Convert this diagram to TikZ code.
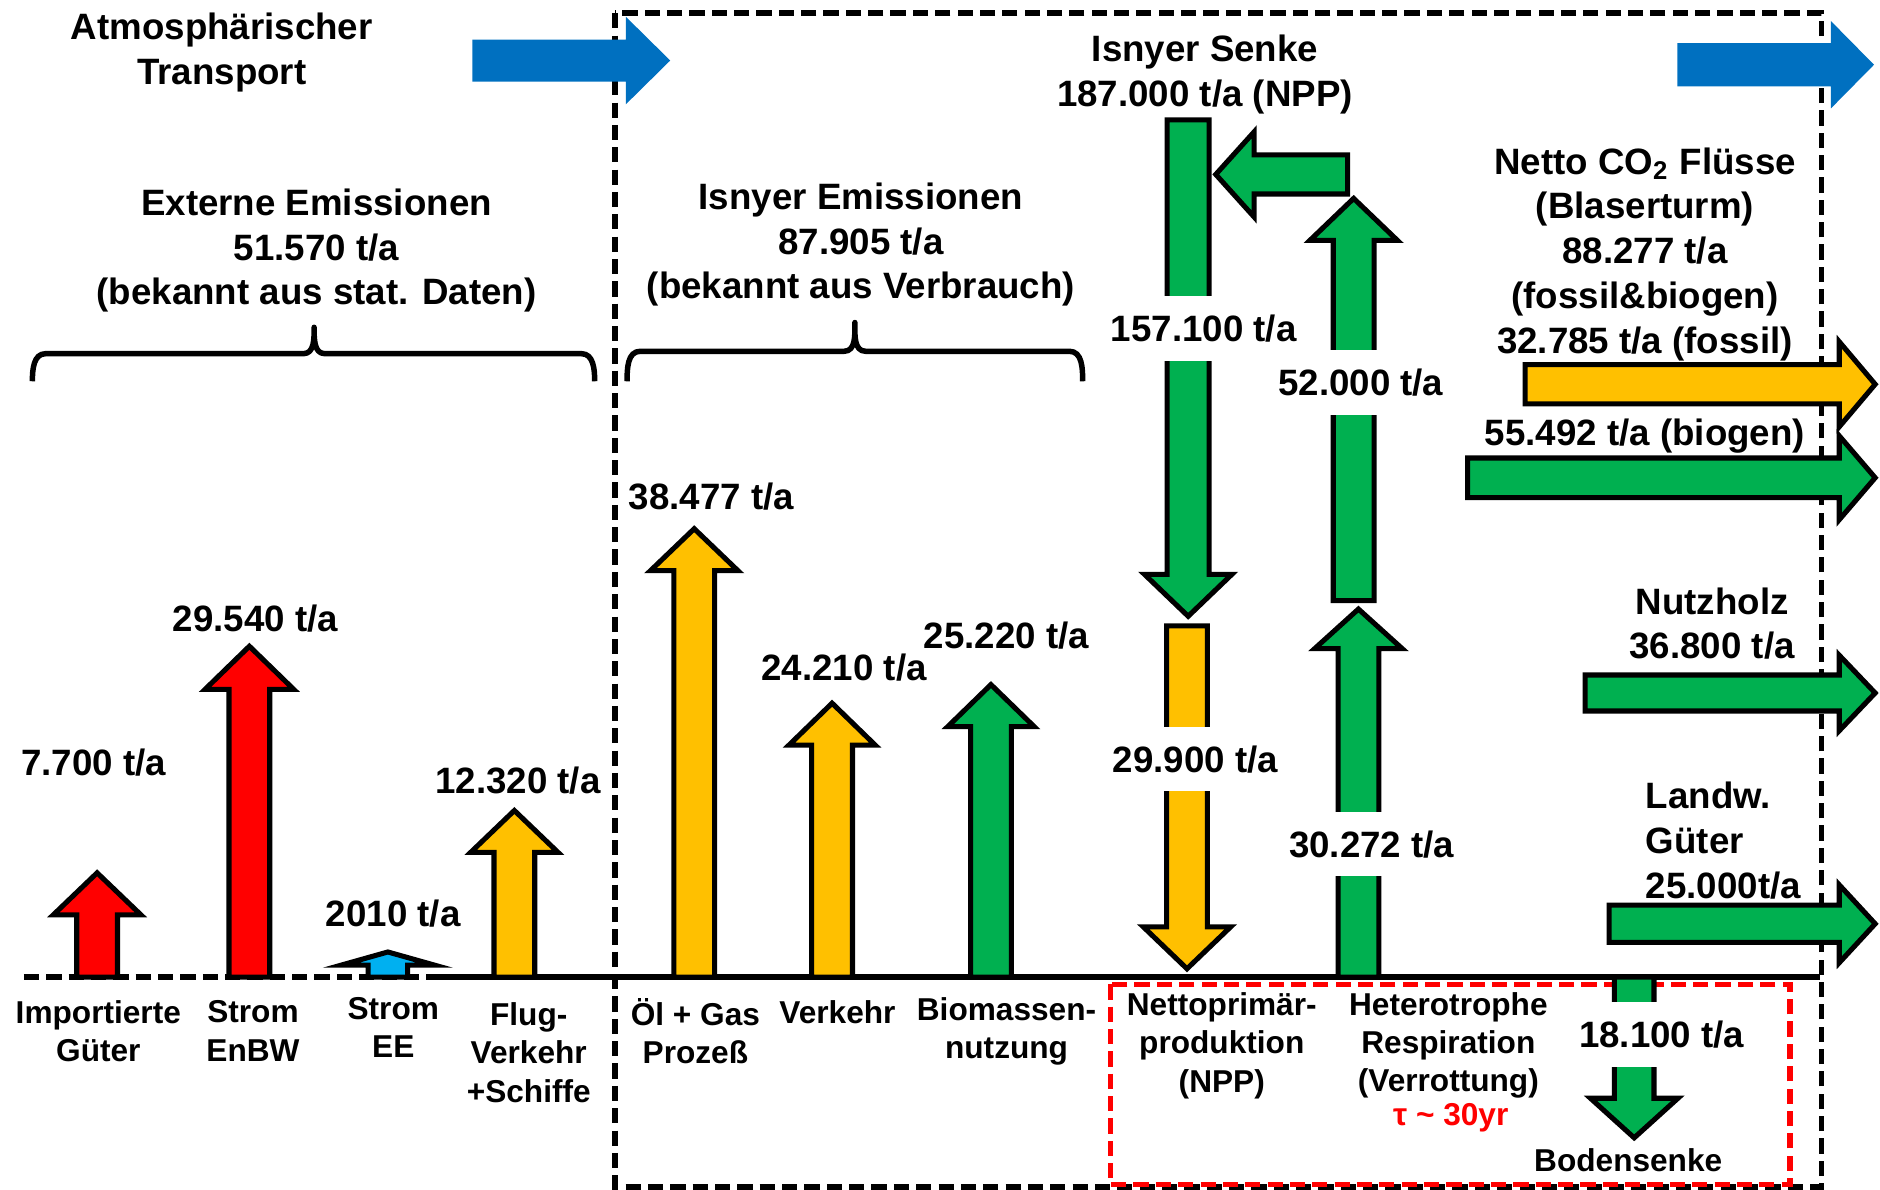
\documentclass[tikz,border=0pt]{standalone}
\usepackage{fontspec}
\setmainfont{Liberation Sans}
\usepackage{tikz}
\usetikzlibrary{positioning}

\definecolor{emred}{HTML}{FF0000}
\definecolor{fossil}{HTML}{FFC000}
\definecolor{bio}{HTML}{00B050}
\definecolor{atmo}{HTML}{0070C0}
\definecolor{eeblue}{HTML}{00B0F0}

% block arrow: options, tail, direction, length, head length, shaft half width, head half width
\newcommand{\flowarrow}[7]{%
  \draw[flow, #1, shift={#2}, rotate=#3]
    (0,-#6) -- (#4-#5,-#6) -- (#4-#5,-#7) -- (#4,0) -- (#4-#5,#7) -- (#4-#5,#6) -- (0,#6) -- cycle;}

\begin{document}
\begin{tikzpicture}[
    x=0.01cm, y=-0.01cm,
    flow/.style={draw=black, line width=1.2pt},
    hdr/.style={font=\fontsize{8.7}{10.6}\selectfont\bfseries, align=center, inner sep=0pt},
    val/.style={font=\fontsize{8.7}{10.6}\selectfont\bfseries, inner sep=0pt, text height=6.2pt, text depth=0pt},
    gap/.style={val, fill=white, inner xsep=2pt, minimum height=0.54cm},
    cat/.style={font=\fontsize{7.5}{9.1}\selectfont\bfseries, align=center, inner sep=0pt},
    frame/.style={dash pattern=on 3.6pt off 1.7pt, line width=1.3pt},
    brace/.style={line width=1.3pt, line join=round},
  ]
  \useasboundingbox (0,0) rectangle (1568,992);

  % system borders
  \draw[frame] (513,11) rectangle (1519,990);
  \draw[frame, emred] (926,821) rectangle (1493,988);
  \draw[frame] (20,815) -- (360,815);
  \draw[line width=1.3pt] (360,815) -- (1518,815);

  % braces
  \draw[brace] (27,318) to[out=90, in=180] (38,295) -- (253,295)
    to[out=0, in=-90] (262,273) to[out=-90, in=180] (271,295) -- (485,295) to[out=0, in=90] (496,318);
  \draw[brace] (523,318) to[out=90, in=180] (534,293) -- (704,293)
    to[out=0, in=-90] (713,269) to[out=-90, in=180] (722,293) -- (892,293) to[out=0, in=90] (903,318);

  % atmospheric transport
  \flowarrow{fill=atmo, draw=none}{(394,50.5)}{0}{165}{37}{17.5}{36.5}
  \flowarrow{fill=atmo, draw=none}{(1399,54)}{0}{164}{36}{18}{36.5}

  % external emissions
  \flowarrow{fill=emred}{(81,815)}{90}{87}{35}{17}{36.5}
  \flowarrow{fill=emred}{(208,815)}{90}{276}{36}{17}{37}
  \flowarrow{fill=eeblue}{(323.5,815)}{90}{21}{11}{16.5}{39}
  \flowarrow{fill=fossil}{(429,815)}{90}{139}{35}{17}{36.5}

  % Isny emissions
  \flowarrow{fill=fossil}{(579,815)}{90}{374}{35}{17}{36.5}
  \flowarrow{fill=fossil}{(694,815)}{90}{228.5}{35}{17}{36}
  \flowarrow{fill=bio}{(826.5,815)}{90}{244}{35}{17}{36}

  % sink and respiration
  \flowarrow{fill=bio}{(991,100)}{-90}{414}{35}{17.5}{36.5}
  \flowarrow{fill=fossil}{(990,522)}{-90}{286}{35}{17}{36.5}
  \flowarrow{fill=bio}{(1124,145.5)}{180}{110}{32}{16.3}{35.5}
  \flowarrow{fill=bio}{(1129,501)}{90}{335.5}{35}{17}{36.5}
  \flowarrow{fill=bio}{(1133,815)}{90}{307}{33}{17}{36.5}
  \flowarrow{fill=bio}{(1363,815)}{-90}{134}{33}{16.5}{36.5}

  % net fluxes
  \flowarrow{fill=fossil}{(1272,320.5)}{0}{292}{30}{16.3}{35.5}
  \flowarrow{fill=bio}{(1224,398.5)}{0}{340}{30}{16.5}{35}
  \flowarrow{fill=bio}{(1322,578)}{0}{242}{30}{15}{31.5}
  \flowarrow{fill=bio}{(1342,770.5)}{0}{222}{30}{15.5}{32.5}

  % headings
  \node[hdr] (atmolbl) at (185,44) {Atmosphärischer\\Transport};
  \node[hdr] (extern) at (264,209) {Externe Emissionen\\51.570 t/a\\(bekannt aus stat. Daten)};
  \node[hdr] (isny) at (718,204) {Isnyer Emissionen\\87.905 t/a\\(bekannt aus Verbrauch)};
  \node[hdr] (senke) at (1005,62) {Isnyer Senke\\187.000 t/a (NPP)};
  \node[hdr] (netto) at (1372,212) {Netto CO\textsubscript{2} Flüsse\\(Blaserturm)\\88.277 t/a\\(fossil\&biogen)\\32.785 t/a (fossil)};
  \node[val] (biogen) at (1372,361) {55.492 t/a (biogen)};
  \node[hdr] (nutzholz) at (1428,520) {Nutzholz\\36.800 t/a};
  \node[hdr, align=left, anchor=west] (landw) at (1372,701) {Landw.\\Güter\\25.000t/a};

  % flow values
  \node[val] (v-import) at (78,635.5) {7.700 t/a};
  \node[val] (v-enbw) at (213,516) {29.540 t/a};
  \node[val] (v-ee) at (328,762) {2010 t/a};
  \node[val] (v-flug) at (432,651) {12.320 t/a};
  \node[val] (v-oel) at (593.5,414) {38.477 t/a};
  \node[val] (v-verkehr) at (704,557) {24.210 t/a};
  \node[val] (v-biomasse) at (839.5,530) {25.220 t/a};
  \node[gap] (v-npp) at (1004,274) {157.100 t/a};
  \node[gap] (v-resp) at (1135,319) {52.000 t/a};
  \node[gap] (v-nppfossil) at (997,633) {29.900 t/a};
  \node[gap] (v-verrott) at (1144,704) {30.272 t/a};
  \node[gap] (v-boden) at (1386,863) {18.100 t/a};

  % categories
  \node[cat] (c-import) at (82,860) {Importierte\\Güter};
  \node[cat] (c-enbw) at (211,860) {Strom\\EnBW};
  \node[cat] (c-ee) at (328,857) {Strom\\EE};
  \node[cat] (c-flug) at (441,878) {Flug-\\Verkehr\\+Schiffe};
  \node[cat] (c-oel) at (580,860) {Öl + Gas\\Prozeß};
  \node[cat] (c-verkehr) at (698.5,844) {Verkehr};
  \node[cat] (c-biomasse) at (839.5,860) {Biomassen-\\nutzung};
  \node[cat] (c-npp) at (1019,872) {Nettoprimär-\\produktion\\(NPP)};
  \node[cat] (c-resp) at (1208,872) {Heterotrophe\\Respiration\\(Verrottung)};
  \node[cat, text=emred] (c-tau) at (1210,932) {τ \textasciitilde{} 30yr};
  \node[cat] (c-boden) at (1358,968) {Bodensenke};
\end{tikzpicture}
\end{document}
